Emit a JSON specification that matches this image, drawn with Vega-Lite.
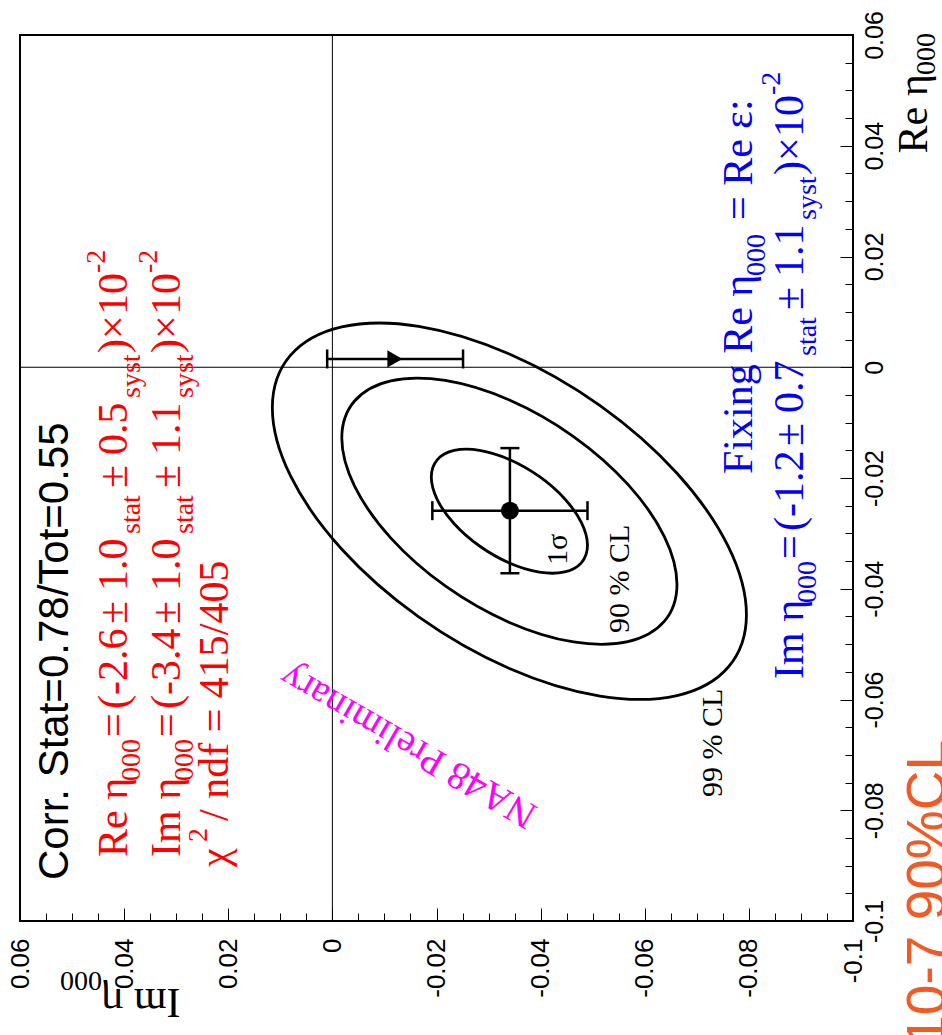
{
  "$schema": "https://vega.github.io/schema/vega-lite/v6.json",
  "width": 833,
  "height": 886,
  "autosize": "none",
  "padding": {"left": 20, "top": 35, "right": 89, "bottom": 114},
  "background": "white",
  "config": {"view": {"stroke": "black", "strokeWidth": 2}},
  "datasets": {
    "zero": [
      {"Im": 0, "Re": -0.1, "Im2": 0, "Re2": 0.06},
      {"Im": -0.1, "Re": 0, "Im2": 0.06, "Re2": 0}
    ],
    "ell": [
      {"cl": "1s", "i": 0, "Im": -0.0190, "Re": -0.01984},
      {"cl": "1s", "i": 1, "Im": -0.02014, "Re": -0.01673},
      {"cl": "1s", "i": 2, "Im": -0.02339, "Re": -0.01503},
      {"cl": "1s", "i": 3, "Im": -0.02826, "Re": -0.01500},
      {"cl": "1s", "i": 4, "Im": -0.0340, "Re": -0.01665},
      {"cl": "1s", "i": 5, "Im": -0.03974, "Re": -0.01972},
      {"cl": "1s", "i": 6, "Im": -0.04461, "Re": -0.02374},
      {"cl": "1s", "i": 7, "Im": -0.04786, "Re": -0.02811},
      {"cl": "1s", "i": 8, "Im": -0.0490, "Re": -0.03216},
      {"cl": "1s", "i": 9, "Im": -0.04786, "Re": -0.03527},
      {"cl": "1s", "i": 10, "Im": -0.04461, "Re": -0.03697},
      {"cl": "1s", "i": 11, "Im": -0.03974, "Re": -0.03700},
      {"cl": "1s", "i": 12, "Im": -0.0340, "Re": -0.03535},
      {"cl": "1s", "i": 13, "Im": -0.02826, "Re": -0.03228},
      {"cl": "1s", "i": 14, "Im": -0.02339, "Re": -0.02826},
      {"cl": "1s", "i": 15, "Im": -0.02014, "Re": -0.02389},
      {"cl": "90", "i": 0, "Im": -0.00181, "Re": -0.01278},
      {"cl": "90", "i": 1, "Im": -0.00426, "Re": -0.00610},
      {"cl": "90", "i": 2, "Im": -0.01124, "Re": -0.00245},
      {"cl": "90", "i": 3, "Im": -0.02168, "Re": -0.00239},
      {"cl": "90", "i": 4, "Im": -0.0340, "Re": -0.00592},
      {"cl": "90", "i": 5, "Im": -0.04632, "Re": -0.01251},
      {"cl": "90", "i": 6, "Im": -0.05676, "Re": -0.02115},
      {"cl": "90", "i": 7, "Im": -0.06374, "Re": -0.03053},
      {"cl": "90", "i": 8, "Im": -0.06619, "Re": -0.03922},
      {"cl": "90", "i": 9, "Im": -0.06374, "Re": -0.04590},
      {"cl": "90", "i": 10, "Im": -0.05676, "Re": -0.04955},
      {"cl": "90", "i": 11, "Im": -0.04632, "Re": -0.04961},
      {"cl": "90", "i": 12, "Im": -0.0340, "Re": -0.04608},
      {"cl": "90", "i": 13, "Im": -0.02168, "Re": -0.03949},
      {"cl": "90", "i": 14, "Im": -0.01124, "Re": -0.03085},
      {"cl": "90", "i": 15, "Im": -0.00426, "Re": -0.02147},
      {"cl": "99", "i": 0, "Im": 0.01153, "Re": -0.00731},
      {"cl": "99", "i": 1, "Im": 0.00806, "Re": 0.00213},
      {"cl": "99", "i": 2, "Im": -0.00181, "Re": 0.00729},
      {"cl": "99", "i": 3, "Im": -0.01658, "Re": 0.00738},
      {"cl": "99", "i": 4, "Im": -0.0340, "Re": 0.00239},
      {"cl": "99", "i": 5, "Im": -0.05142, "Re": -0.00693},
      {"cl": "99", "i": 6, "Im": -0.06619, "Re": -0.01914},
      {"cl": "99", "i": 7, "Im": -0.07606, "Re": -0.03241},
      {"cl": "99", "i": 8, "Im": -0.07953, "Re": -0.04469},
      {"cl": "99", "i": 9, "Im": -0.07606, "Re": -0.05413},
      {"cl": "99", "i": 10, "Im": -0.06619, "Re": -0.05929},
      {"cl": "99", "i": 11, "Im": -0.05142, "Re": -0.05938},
      {"cl": "99", "i": 12, "Im": -0.0340, "Re": -0.05439},
      {"cl": "99", "i": 13, "Im": -0.01658, "Re": -0.04507},
      {"cl": "99", "i": 14, "Im": -0.00181, "Re": -0.03286},
      {"cl": "99", "i": 15, "Im": 0.00806, "Re": -0.01959}
    ],
    "bars": [
      {"Im": -0.0490, "Im2": -0.0192, "Re": -0.0259, "Re2": -0.0259},
      {"Im": -0.0341, "Im2": -0.0341, "Re": -0.0372, "Re2": -0.0146},
      {"Im": 0.0010, "Im2": -0.0251, "Re": 0.0015, "Re2": 0.0015}
    ],
    "vcaps": [
      {"Im": -0.0490, "Re": -0.0259},
      {"Im": -0.0192, "Re": -0.0259},
      {"Im": 0.0010, "Re": 0.0015},
      {"Im": -0.0251, "Re": 0.0015}
    ],
    "hcaps": [
      {"Im": -0.0341, "Re": -0.0372},
      {"Im": -0.0341, "Re": -0.0146}
    ],
    "fit": [{"Im": -0.0341, "Re": -0.0259}],
    "fixed": [{"Im": -0.0120, "Re": 0.0015}],
    "txt": [
      {"g": "corr", "t": "Corr. Stat=0.78/Tot=0.55", "Im": 0.0508, "Re": -0.09260},
      {"g": "rm", "t": "Re η", "Im": 0.03945, "Re": -0.08844},
      {"g": "rm", "t": "=", "Im": 0.03945, "Re": -0.06677},
      {"g": "rm", "t": "(-2.6", "Im": 0.03945, "Re": -0.06172},
      {"g": "rm", "t": "±", "Im": 0.03945, "Re": -0.04637},
      {"g": "rm", "t": "1.0", "Im": 0.03945, "Re": -0.04041},
      {"g": "rm", "t": "±", "Im": 0.03945, "Re": -0.02181},
      {"g": "rm", "t": "0.5", "Im": 0.03945, "Re": -0.01585},
      {"g": "rm", "t": ")×", "Im": 0.03945, "Re": 0.00257},
      {"g": "rm", "t": "10", "Im": 0.03945, "Re": 0.00944},
      {"g": "rs", "t": "000", "Im": 0.03695, "Re": -0.07472},
      {"g": "rs", "t": "stat", "Im": 0.03695, "Re": -0.03011},
      {"g": "rs", "t": "syst", "Im": 0.03695, "Re": -0.00555},
      {"g": "rs", "t": "-2", "Im": 0.04367, "Re": 0.01702},
      {"g": "rm", "t": "Im η", "Im": 0.02927, "Re": -0.08844},
      {"g": "rm", "t": "=", "Im": 0.02927, "Re": -0.06677},
      {"g": "rm", "t": "(-3.4", "Im": 0.02927, "Re": -0.06172},
      {"g": "rm", "t": "±", "Im": 0.02927, "Re": -0.04637},
      {"g": "rm", "t": "1.0", "Im": 0.02927, "Re": -0.04041},
      {"g": "rm", "t": "±", "Im": 0.02927, "Re": -0.02181},
      {"g": "rm", "t": "1.1", "Im": 0.02927, "Re": -0.01585},
      {"g": "rm", "t": ")×", "Im": 0.02927, "Re": 0.00257},
      {"g": "rm", "t": "10", "Im": 0.02927, "Re": 0.00944},
      {"g": "rs", "t": "000", "Im": 0.02677, "Re": -0.07472},
      {"g": "rs", "t": "stat", "Im": 0.02677, "Re": -0.03011},
      {"g": "rs", "t": "syst", "Im": 0.02677, "Re": -0.00555},
      {"g": "rs", "t": "-2", "Im": 0.03369, "Re": 0.01702},
      {"g": "rm", "t": "χ", "Im": 0.02005, "Re": -0.09025},
      {"g": "rs", "t": "2", "Im": 0.02408, "Re": -0.08573},
      {"g": "rm", "t": "/ ndf = 415/405", "Im": 0.02005, "Re": -0.08194},
      {"g": "bm", "t": "Fixing Re η", "Im": -0.08060, "Re": -0.01928},
      {"g": "bs", "t": "000", "Im": -0.08310, "Re": 0.01648},
      {"g": "bm", "t": "= Re ε:", "Im": -0.08060, "Re": 0.02659},
      {"g": "bm", "t": "Im η", "Im": -0.09040, "Re": -0.05630},
      {"g": "bs", "t": "000", "Im": -0.09289, "Re": -0.04257},
      {"g": "bm", "t": "=", "Im": -0.09040, "Re": -0.03463},
      {"g": "bm", "t": "(-1.2", "Im": -0.09040, "Re": -0.02957},
      {"g": "bm", "t": "±", "Im": -0.09040, "Re": -0.01422},
      {"g": "bm", "t": "0.7", "Im": -0.09040, "Re": -0.00826},
      {"g": "bs", "t": "stat", "Im": -0.09289, "Re": 0.00203},
      {"g": "bm", "t": "±", "Im": -0.09040, "Re": 0.01034},
      {"g": "bm", "t": "1.1", "Im": -0.09040, "Re": 0.01630},
      {"g": "bs", "t": "syst", "Im": -0.09289, "Re": 0.02659},
      {"g": "bm", "t": ")×", "Im": -0.09040, "Re": 0.03472},
      {"g": "bm", "t": "10", "Im": -0.09040, "Re": 0.04158},
      {"g": "bs", "t": "-2", "Im": -0.08598, "Re": 0.04916},
      {"g": "cl", "t": "1σ", "Im": -0.04507, "Re": -0.03571},
      {"g": "cl", "t": "90 % CL", "Im": -0.05698, "Re": -0.04799},
      {"g": "cl", "t": "99 % CL", "Im": -0.07484, "Re": -0.07761},
      {"g": "ts", "t": "000", "Im": -0.11575, "Re": 0.05278},
      {"g": "tsi", "t": "000", "Im": 0.04425, "Re": -0.10921},
      {"g": "na", "t": "NA48 Preliminary", "Im": -0.01453, "Re": -0.06840},
      {"g": "or", "t": "10-7 90%CL", "Im": -0.11767, "Re": -0.06731}
    ]
  },
  "encoding": {
    "x": {
      "field": "Im", "type": "quantitative",
      "scale": {"domain": [-0.1, 0.06], "reverse": true, "nice": false, "zero": false},
      "axis": {
        "orient": "bottom",
        "values": [-0.1,-0.095,-0.09,-0.085,-0.08,-0.075,-0.07,-0.065,-0.06,-0.055,-0.05,-0.045,-0.04,-0.035,-0.03,-0.025,-0.02,-0.015,-0.01,-0.005,0,0.005,0.01,0.015,0.02,0.025,0.03,0.035,0.04,0.045,0.05,0.055,0.06],
        "domain": false, "grid": false,
        "tickColor": "black", "tickWidth": 1,
        "tickSize": {"condition": {"test": "abs(datum.value*50 - round(datum.value*50)) < 0.001", "value": -13}, "value": -8},
        "labelExpr": "abs(datum.value*50 - round(datum.value*50)) < 0.001 ? '' + datum.value : ''",
        "labelAngle": 270, "labelAlign": "right", "labelBaseline": "middle",
        "labelPadding": 30, "labelFont": "Liberation Sans", "labelFontSize": 26, "labelColor": "black",
        "labelOverlap": false, "labelFlush": false,
        "title": "Im η", "titleFont": "Liberation Serif", "titleFontSize": 42, "titleFontWeight": "normal",
        "titleColor": "black", "titleAngle": 180, "titleAlign": "left", "titleBaseline": "alphabetic",
        "titleX": 160, "titleY": 67
      }
    },
    "y": {
      "field": "Re", "type": "quantitative",
      "scale": {"domain": [-0.1, 0.06], "nice": false, "zero": false},
      "axis": {
        "orient": "right",
        "values": [-0.1,-0.095,-0.09,-0.085,-0.08,-0.075,-0.07,-0.065,-0.06,-0.055,-0.05,-0.045,-0.04,-0.035,-0.03,-0.025,-0.02,-0.015,-0.01,-0.005,0,0.005,0.01,0.015,0.02,0.025,0.03,0.035,0.04,0.045,0.05,0.055,0.06],
        "domain": false, "grid": false,
        "tickColor": "black", "tickWidth": 1,
        "tickSize": {"condition": {"test": "abs(datum.value*50 - round(datum.value*50)) < 0.001", "value": -13}, "value": -8},
        "labelExpr": "abs(datum.value*50 - round(datum.value*50)) < 0.001 ? '' + datum.value : ''",
        "labelAngle": 270, "labelAlign": "center", "labelBaseline": "top",
        "labelPadding": 22, "labelFont": "Liberation Sans", "labelFontSize": 25, "labelColor": "black",
        "labelOverlap": false, "labelFlush": false,
        "title": "Re η", "titleFont": "Liberation Serif", "titleFontSize": 42, "titleFontWeight": "normal",
        "titleColor": "black", "titleAngle": 270, "titleAlign": "left", "titleBaseline": "alphabetic",
        "titleX": 73, "titleY": 118
      }
    }
  },
  "layer": [
    {"data": {"name": "zero"}, "mark": {"type": "rule", "color": "black", "strokeWidth": 1},
     "encoding": {"x2": {"field": "Im2"}, "y2": {"field": "Re2"}}},
    {"data": {"name": "ell"}, "mark": {"type": "line", "color": "black", "strokeWidth": 2.8, "interpolate": "cardinal-closed"},
     "encoding": {"detail": {"field": "cl"}, "order": {"field": "i", "type": "quantitative"}}},
    {"data": {"name": "bars"}, "mark": {"type": "rule", "color": "black", "strokeWidth": 2.5},
     "encoding": {"x2": {"field": "Im2"}, "y2": {"field": "Re2"}}},
    {"data": {"name": "vcaps"}, "mark": {"type": "tick", "orient": "vertical", "color": "black", "size": 19, "thickness": 2.5, "opacity": 1}},
    {"data": {"name": "hcaps"}, "mark": {"type": "tick", "orient": "horizontal", "color": "black", "size": 19, "thickness": 2.5, "opacity": 1}},
    {"data": {"name": "fit"}, "mark": {"type": "point", "shape": "circle", "filled": true, "color": "black", "size": 320, "opacity": 1}},
    {"data": {"name": "fixed"}, "mark": {"type": "point", "shape": "triangle-right", "filled": true, "color": "black", "size": 300, "opacity": 1}},
    {"data": {"name": "txt"}, "transform": [{"filter": "datum.g == 'corr'"}],
     "mark": {"type": "text", "font": "Liberation Sans", "fontSize": 42, "color": "black", "angle": 270, "align": "left", "baseline": "alphabetic"},
     "encoding": {"text": {"field": "t"}}},
    {"data": {"name": "txt"}, "transform": [{"filter": "datum.g == 'rm'"}],
     "mark": {"type": "text", "font": "Liberation Serif", "fontSize": 42, "color": "#ff0000", "angle": 270, "align": "left", "baseline": "alphabetic"},
     "encoding": {"text": {"field": "t"}}},
    {"data": {"name": "txt"}, "transform": [{"filter": "datum.g == 'rs'"}],
     "mark": {"type": "text", "font": "Liberation Serif", "fontSize": 28, "color": "#ff0000", "angle": 270, "align": "left", "baseline": "alphabetic"},
     "encoding": {"text": {"field": "t"}}},
    {"data": {"name": "txt"}, "transform": [{"filter": "datum.g == 'bm'"}],
     "mark": {"type": "text", "font": "Liberation Serif", "fontSize": 42, "color": "#0000ff", "angle": 270, "align": "left", "baseline": "alphabetic"},
     "encoding": {"text": {"field": "t"}}},
    {"data": {"name": "txt"}, "transform": [{"filter": "datum.g == 'bs'"}],
     "mark": {"type": "text", "font": "Liberation Serif", "fontSize": 28, "color": "#0000ff", "angle": 270, "align": "left", "baseline": "alphabetic"},
     "encoding": {"text": {"field": "t"}}},
    {"data": {"name": "txt"}, "transform": [{"filter": "datum.g == 'cl'"}],
     "mark": {"type": "text", "font": "Liberation Serif", "fontSize": 30, "color": "black", "angle": 270, "align": "left", "baseline": "alphabetic"},
     "encoding": {"text": {"field": "t"}}},
    {"data": {"name": "txt"}, "transform": [{"filter": "datum.g == 'ts'"}],
     "mark": {"type": "text", "font": "Liberation Serif", "fontSize": 28, "color": "black", "angle": 270, "align": "left", "baseline": "alphabetic"},
     "encoding": {"text": {"field": "t"}}},
    {"data": {"name": "txt"}, "transform": [{"filter": "datum.g == 'tsi'"}],
     "mark": {"type": "text", "font": "Liberation Serif", "fontSize": 28, "color": "black", "angle": 180, "align": "left", "baseline": "alphabetic"},
     "encoding": {"text": {"field": "t"}}},
    {"data": {"name": "txt"}, "transform": [{"filter": "datum.g == 'na'"}],
     "mark": {"type": "text", "font": "Liberation Serif", "fontSize": 39, "color": "#ff00ff", "angle": 210, "align": "center", "baseline": "middle"},
     "encoding": {"text": {"field": "t"}}},
    {"data": {"name": "txt"}, "transform": [{"filter": "datum.g == 'or'"}],
     "mark": {"type": "text", "font": "Liberation Sans", "fontSize": 55, "color": "#f15a24", "angle": 270, "align": "right", "baseline": "alphabetic"},
     "encoding": {"text": {"field": "t"}}}
  ]
}
